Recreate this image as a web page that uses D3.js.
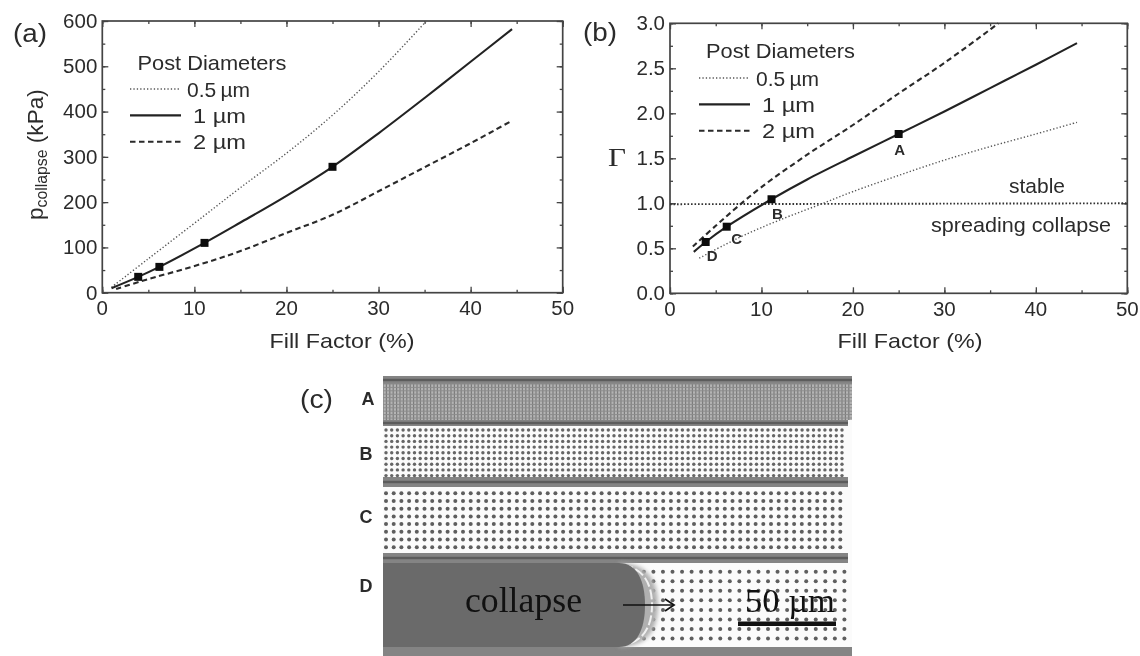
<!DOCTYPE html>
<html><head><meta charset="utf-8">
<script src="https://cdn.jsdelivr.net/npm/d3@7"></script>
<style>
html,body{margin:0;padding:0;background:#fff}
svg{display:block;filter:blur(0.6px)}
text{font-family:"Liberation Sans",Arial,sans-serif;fill:#2b2b2b}
</style></head><body>
<svg id="c" width="1140" height="656"></svg>
<script>
// ---- data ----
const fillA_half = [1,5,11,15,20,25,30,35.2];
const pA_half    = [12,75,169,232,308,392,488,600];
const fillA_one  = [1,3.9,6.2,11.1,15,20,25,30,35,40,44.5];
const pA_one     = [10,35,57,110,155,214,278,352,430,510,582];
const fillA_two  = [1.5,4,11,15,20,25,30,35,40,44.5];
const pA_two     = [8,24,65,92,132,172,224,277,330,380];
const markersFill = [3.9,6.2,11.1,25];
const markersA    = [35,57,110,278];

const fillB_half = [3.2,6,8.2,12,17,20,25,30,35,40,44.5];
const gB_half    = [0.39,0.54,0.65,0.815,1.01,1.13,1.31,1.48,1.63,1.77,1.9];
const fillB_one  = [2.6,3.9,6.2,11.1,15,20,25,30,35,40,44.5];
const gB_one     = [0.46,0.57,0.74,1.045,1.265,1.52,1.77,2.02,2.28,2.54,2.78];
const fillB_two  = [2.5,5,7.3,10,15,20,25,30,35,35.9];
const gB_two     = [0.52,0.75,0.955,1.18,1.54,1.87,2.22,2.56,2.93,3.0];
const fillB_ref  = [0,50];
const gB_ref     = [0.99,1.0];
const markersB   = [0.57,0.74,1.045,1.77];
const markerNames= ["D","C","B","A"];

const xTicks=[0,10,20,30,40,50];
const yTicksA=[0,100,200,300,400,500,600];
const yTicksB=[0,0.5,1,1.5,2,2.5,3];
const legendLabels=["0.5\u2009\u00b5m","1 \u00b5m","2 \u00b5m"];
const laneNames=["A","B","C","D"];
const lanePitch=[3.4,5.7,7.7,9.55];

// ---- drawing ----
const svg=d3.select("#c");
const defs=svg.append("defs");
const blur=(id,sd,extra)=>{const f=defs.append("filter").attr("id",id).attr("color-interpolation-filters","sRGB");
  if(extra) f.attr("filterUnits","userSpaceOnUse").attr("x",370).attr("y",365).attr("width",500).attr("height",300);
  f.append("feGaussianBlur").attr("stdDeviation",sd);};
blur("softer",0.7,true);
blur("ring",2.2,true);
const root=svg.append("g");
const styles={half:{w:1.4,dash:"1.3 2.1",c:"#555"},one:{w:2.1,dash:null,c:"#222"},two:{w:2.1,dash:"5.5 3.5",c:"#2a2a2a"},ref:{w:1.9,dash:"1.6 1.9",c:"#333"}};

// text stretched a little wider than tall, as in the scanned figure
function stext(g,x,y,size,str,len,anchor){
  const t=g.append("text").attr("x",x).attr("y",y).attr("font-size",size).text(str);
  if(len) t.attr("textLength",len).attr("lengthAdjust","spacingAndGlyphs");
  if(anchor) t.attr("text-anchor",anchor);
  return t;
}

function panel(o){
  const g=root.append("g");
  const x=d3.scaleLinear().domain([0,50]).range([o.l,o.r]);
  const y=d3.scaleLinear().domain(o.yd).range([o.b,o.t]);
  const xMinor=d3.range(0,51,5), yMinor=d3.range(0,o.yd[1]+1e-9,o.yd[1]/12);
  const mk=(ax,tr,ticks,len)=>{
    const a=g.append("g").attr("transform",tr).call(ax.tickValues(ticks).tickSize(len).tickFormat(""));
    a.select(".domain").remove();
    a.selectAll("line").attr("stroke","#444").attr("stroke-width",1.3);
  };
  const M=6,m=3;
  mk(d3.axisTop(x),`translate(0,${o.b})`,xTicks,M);
  mk(d3.axisTop(x),`translate(0,${o.b})`,xMinor,m);
  mk(d3.axisBottom(x),`translate(0,${o.t})`,xTicks,M);
  mk(d3.axisBottom(x),`translate(0,${o.t})`,xMinor,m);
  mk(d3.axisRight(y),`translate(${o.l},0)`,o.yt,M);
  mk(d3.axisRight(y),`translate(${o.l},0)`,yMinor,m);
  mk(d3.axisLeft(y),`translate(${o.r},0)`,o.yt,M);
  mk(d3.axisLeft(y),`translate(${o.r},0)`,yMinor,m);
  g.append("rect").attr("x",o.l).attr("y",o.t).attr("width",o.r-o.l).attr("height",o.b-o.t)
    .attr("fill","none").attr("stroke","#444").attr("stroke-width",1.7);
  g.selectAll(".xl").data(xTicks).join("text").attr("x",d=>x(d)).attr("y",o.b+22.5)
    .attr("text-anchor","middle").attr("font-size",20.5).text(d=>d);
  g.selectAll(".yl").data(o.yt).join("text").attr("x",o.l-5).attr("y",d=>y(d)+6.8)
    .attr("text-anchor","end").attr("font-size",20.5).text(o.yf);
  stext(g,o.xlabelX,o.b+55,21,"Fill Factor (%)",145,"middle");
  const line=d3.line().x(d=>x(d[0])).y(d=>y(d[1])).curve(d3.curveCatmullRom);
  o.series.forEach(s=>{
    const st=styles[s.k];
    g.append("path").attr("d",line(d3.zip(s.x,s.y))).attr("fill","none")
      .attr("stroke",st.c).attr("stroke-width",st.w).attr("stroke-dasharray",st.dash);
  });
  const sym=d3.symbol().type(d3.symbolSquare).size(64);
  g.selectAll(".m").data(d3.zip(markersFill,o.my)).join("path").attr("d",sym)
    .attr("transform",d=>`translate(${x(d[0])},${y(d[1])})`).attr("fill","#0c0c0c");
  // legend
  stext(g,o.lg.tx,o.lg.ty,21,"Post Diameters",149);
  ["half","one","two"].forEach((k,i)=>{
    const yy=o.lg.ly+i*26.4, st=styles[k];
    g.append("line").attr("x1",o.lg.lx).attr("x2",o.lg.lx+51).attr("y1",yy).attr("y2",yy)
      .attr("stroke",st.c).attr("stroke-width",st.w).attr("stroke-dasharray",st.dash);
    stext(g,o.lg.lx+(i?63:57),yy+7.6,21,legendLabels[i],i?53:63);
  });
  stext(g,o.tag[0],o.tag[1],26,o.tagText,34);
  return {g,x,y};
}

const a=panel({l:102.3,r:562.7,t:21,b:292.7,xlabelX:342,yd:[0,600],yt:yTicksA,yf:d=>d,my:markersA,
  lg:{tx:137.5,ty:70,lx:130,ly:89},tag:[13,42],tagText:"(a)",
  series:[{k:"half",x:fillA_half,y:pA_half},{k:"one",x:fillA_one,y:pA_one},{k:"two",x:fillA_two,y:pA_two}]});
const yl=a.g.append("text").attr("transform","translate(43,220) rotate(-90)").attr("font-size",22.6);
yl.append("tspan").text("p");
yl.append("tspan").attr("font-size",15.8).attr("dy",4).text("collapse");
yl.append("tspan").attr("dy",-4).text(" (kPa)");

const b=panel({l:670,r:1127.3,t:23.3,b:293.3,xlabelX:910,yd:[0,3],yt:yTicksB,yf:d3.format(".1f"),my:markersB,
  lg:{tx:706,ty:58,lx:699,ly:78},tag:[583,41],tagText:"(b)",
  series:[{k:"ref",x:fillB_ref,y:gB_ref},{k:"half",x:fillB_half,y:gB_half},{k:"one",x:fillB_one,y:gB_one},{k:"two",x:fillB_two,y:gB_two}]});
b.g.append("text").attr("x",608).attr("y",166).style("font-family","Liberation Serif").attr("font-size",26).attr("textLength",18).attr("lengthAdjust","spacingAndGlyphs").text("\u0393");
stext(b.g,1037,193,20.5,"stable",56,"middle");
stext(b.g,1021,232,20.5,"spreading collapse",180,"middle");
const off=[[6.5,18.5],[10,17.5],[6,20],[1,21]];
b.g.selectAll(".ml").data(markerNames).join("text")
  .attr("x",(d,i)=>b.x(markersFill[i])+off[i][0]).attr("y",(d,i)=>b.y(markersB[i])+off[i][1])
  .attr("text-anchor","middle").attr("font-size",15).attr("font-weight","bold").text(d=>d);

// panel (c): micrograph of four lanes
const pc=root.append("g");
const L=383,R=852,Rn=848;
const laneTop=[384,426,487,563], laneBot=[420,477,553,647];
const barTop=[376,420,477,553,647], barBot=[384,426,487,563,656];
const laneStart=[0,4,6.3,8.7];
defs.append("clipPath").attr("id","pc").append("rect").attr("x",L).attr("y",376).attr("width",R-L).attr("height",280);
const im=pc.append("g").attr("clip-path","url(#pc)").append("g").attr("filter","url(#softer)");
im.append("rect").attr("x",L).attr("y",376).attr("width",R-L).attr("height",280).attr("fill","#fbfbfb");
barTop.forEach((t,i)=>{
  const w=(i>=1&&i<=3?Rn:R)-L;
  im.append("rect").attr("x",L).attr("y",t).attr("width",w).attr("height",barBot[i]-t).attr("fill","#848484");
  if(i<4) im.append("rect").attr("x",L).attr("y",t+(barBot[i]-t)/2-1.2).attr("width",w).attr("height",2.4).attr("fill","#5c5c5c");
});
// lane A: fine grey mesh
im.append("rect").attr("x",L).attr("y",laneTop[0]).attr("width",R-L).attr("height",laneBot[0]-laneTop[0]).attr("fill","#b4b4b4");
const meshX=d3.range(L,R,lanePitch[0]), meshY=d3.range(laneTop[0],laneBot[0],lanePitch[0]);
im.selectAll(".mx").data(meshX).join("line").attr("x1",d=>d).attr("x2",d=>d).attr("y1",laneTop[0]).attr("y2",laneBot[0]).attr("stroke","#7c7c7c").attr("stroke-width",1.2);
im.selectAll(".my").data(meshY).join("line").attr("y1",d=>d).attr("y2",d=>d).attr("x1",L).attr("x2",R).attr("stroke","#8c8c8c").attr("stroke-width",1);
// lanes B, C, D: post grids
[1,2,3].forEach(i=>{
  const p=lanePitch[i], pts=[];
  d3.range(laneTop[i]+laneStart[i],laneBot[i]-1,p).forEach(y=>d3.range(L+3,Rn-1,p).forEach(x=>pts.push([x,y])));
  im.append("g").selectAll("circle").data(pts).join("circle")
    .attr("cx",d=>d[0]).attr("cy",d=>d[1]).attr("r",i==1?1.7:2).attr("fill",i==1?"#666":"#5e5e5e");
});
// lane D: collapse front
const fx=645, fy=(laneTop[3]+laneBot[3])/2, T=laneTop[3], B=laneBot[3];
const front=`M${L},${T}H${fx-26}C${fx-8},${T} ${fx},${fy-24} ${fx},${fy}C${fx},${fy+24} ${fx-8},${B} ${fx-26},${B}H${L}Z`;
const halo=`M${fx-26},${T}C${fx+4},${T} ${fx+13},${fy-22} ${fx+13},${fy}C${fx+13},${fy+22} ${fx+4},${B} ${fx-26},${B}Z`;
im.append("path").attr("d",halo).attr("fill","#b0b0b0").attr("filter","url(#ring)");
im.append("path").attr("d",`M${fx-22},${T+2}C${fx-2},${T+5} ${fx+7},${fy-22} ${fx+7},${fy}C${fx+7},${fy+22} ${fx-2},${B-5} ${fx-22},${B-2}`)
  .attr("fill","none").attr("stroke","#f0f0f0").attr("stroke-width",2).attr("stroke-dasharray","10 3");
im.append("path").attr("d",front).attr("fill","#6a6a6a");
// scale bar and annotations
const sty=(t)=>t.style("font-family","Liberation Serif").style("fill","#111");
sty(stext(pc,465,612,35,"collapse",117));
pc.append("line").attr("x1",623).attr("x2",673).attr("y1",605).attr("y2",605).attr("stroke","#111").attr("stroke-width",1.7);
pc.append("path").attr("d","M665,599L674,605L665,611").attr("fill","none").attr("stroke","#111").attr("stroke-width",1.8);
sty(stext(pc,745,612,34,"50 \u00b5m",90));
pc.append("rect").attr("x",738).attr("y",621.5).attr("width",98).attr("height",4.5).attr("fill","#111");
const labX=[368,366,366,366], labY=[405,460,523,592];
pc.selectAll(".ln").data(laneNames).join("text").attr("x",(d,i)=>labX[i]).attr("y",(d,i)=>labY[i])
  .attr("text-anchor","middle").attr("font-size",18).attr("font-weight","bold").text(d=>d);
stext(pc,300,408,26,"(c)",33);
</script></body></html>
